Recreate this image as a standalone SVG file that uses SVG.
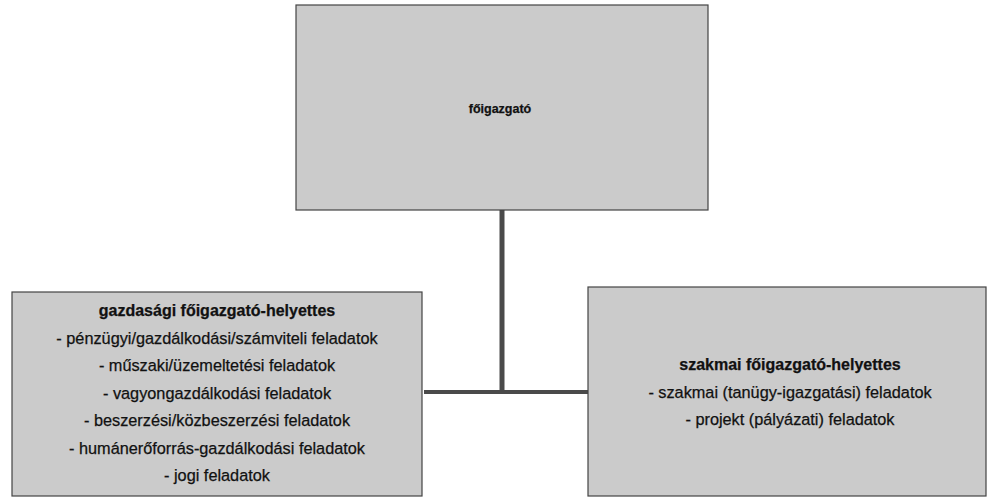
<svg xmlns="http://www.w3.org/2000/svg" width="991" height="499" viewBox="0 0 991 499">
<defs>
<style>
.box{fill:#cbcbcb;stroke:#444444;stroke-width:1.2}
.t{font-family:"Liberation Sans",Arial,sans-serif;font-size:16.3px;fill:#111;stroke:#111;stroke-width:0.25;text-anchor:middle;dominant-baseline:central}
.b{font-weight:bold;font-size:16px}
.conn{fill:none;stroke:#4a4a4a;stroke-linecap:butt}
</style>
</defs>
<rect width="991" height="499" fill="#ffffff"/>
<g id="connectors">
<path class="conn" d="M502,210 V392" stroke-width="5"/>
<path class="conn" d="M424,392 H588" stroke-width="4"/>
</g>
<g id="node-foigazgato">
<rect class="box" x="296" y="5" width="412" height="205"/>
<text class="t b" x="500" y="109" style="font-size:12.5px">főigazgató</text>
</g>
<g id="node-gazdasagi">
<rect class="box" x="12" y="292" width="410" height="204"/>
<text class="t b" x="217" y="310">gazdasági főigazgató-helyettes</text>
<text class="t" x="217" y="337.5">- pénzügyi/gazdálkodási/számviteli feladatok</text>
<text class="t" x="217" y="365">- műszaki/üzemeltetési feladatok</text>
<text class="t" x="217" y="392.5">- vagyongazdálkodási feladatok</text>
<text class="t" x="217" y="420">- beszerzési/közbeszerzési feladatok</text>
<text class="t" x="217" y="447.5">- humánerőforrás-gazdálkodási feladatok</text>
<text class="t" x="217" y="475">- jogi feladatok</text>
</g>
<g id="node-szakmai">
<rect class="box" x="588" y="287" width="398" height="209"/>
<text class="t b" x="790" y="364">szakmai főigazgató-helyettes</text>
<text class="t" x="790" y="392">- szakmai (tanügy-igazgatási) feladatok</text>
<text class="t" x="790" y="419">- projekt (pályázati) feladatok</text>
</g>
</svg>
